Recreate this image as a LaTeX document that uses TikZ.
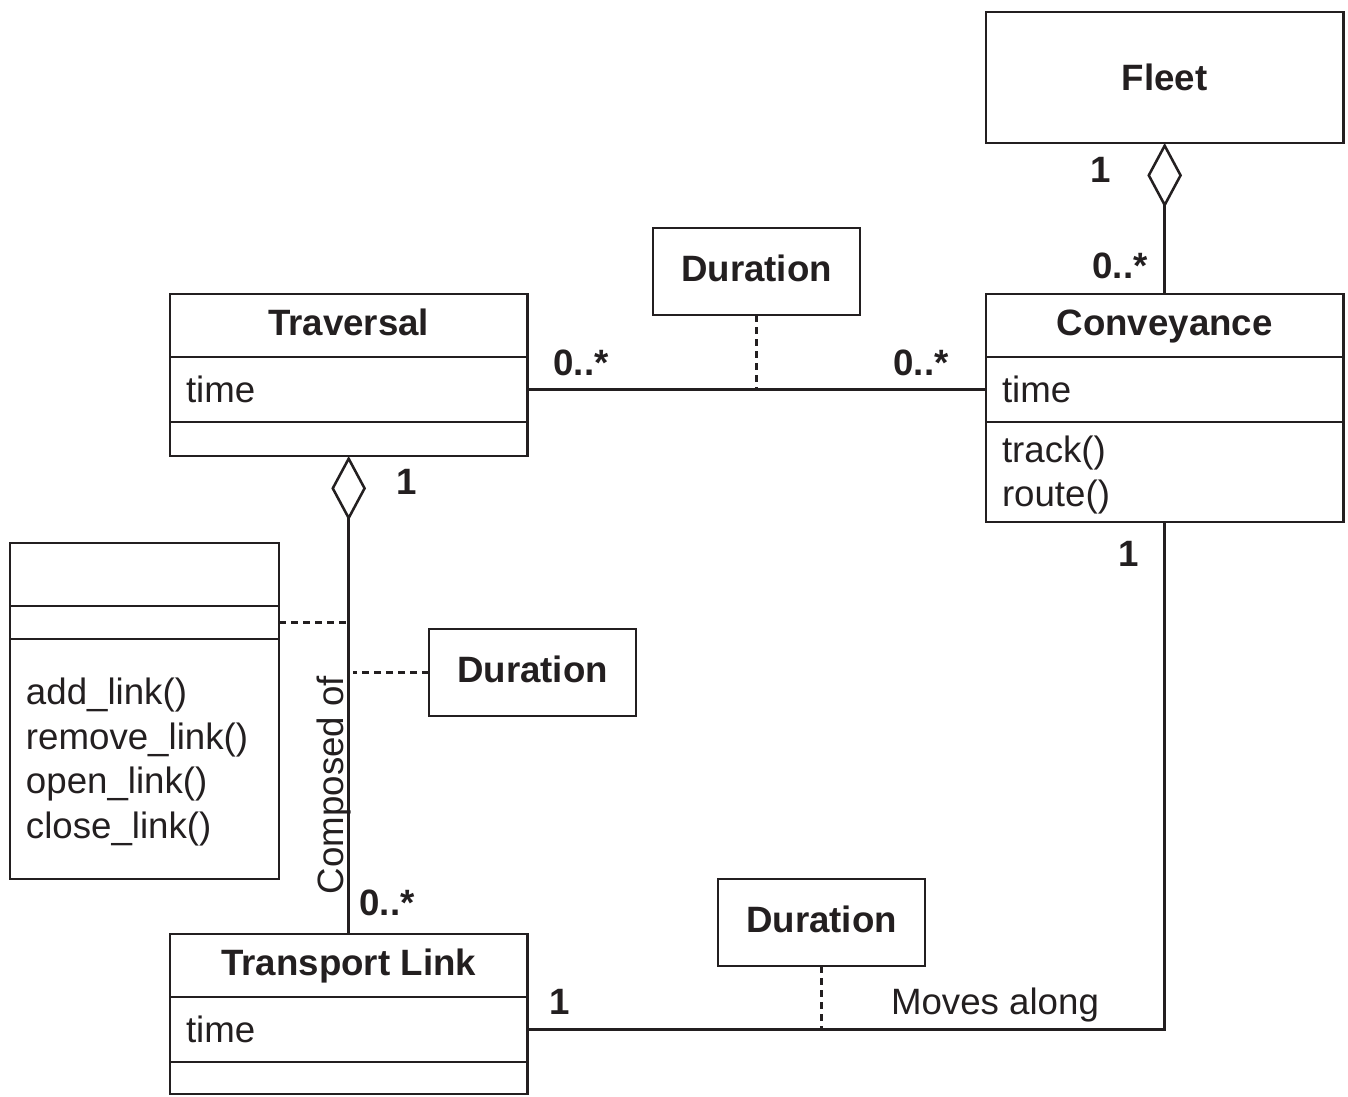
\documentclass[tikz,border=0pt]{standalone}
\usepackage{fontspec}
\setmainfont{Liberation Sans}
\usetikzlibrary{arrows.meta}
\definecolor{ink}{RGB}{35,31,32}

\begin{document}
\begin{tikzpicture}[x=0.75pt,y=-0.75pt,
  every node/.style={font=\fontsize{27.5}{33.5}\selectfont, text=ink},
  box/.style={draw=ink, line width=1.9pt, inner sep=0pt, outer sep=0pt, anchor=north west},
  titlecomp/.style={box, minimum width=#1, minimum height=47.25pt,
    font=\fontsize{27.5}{33.5}\selectfont\bfseries, text height=20.5pt, text depth=5.5pt},
  listcomp/.style 2 args={box, text width=#1, inner xsep=12pt, align=left, minimum height=#2},
  notebox/.style={box, minimum width=155.25pt, minimum height=65.25pt,
    font=\fontsize{27.5}{33.5}\selectfont\bfseries, text height=20.5pt, text depth=5.5pt},
  mult/.style={anchor=base, font=\fontsize{27.5}{33.5}\selectfont\bfseries},
  plain/.style={anchor=base},
  assoc/.style={draw=ink, line width=1.9pt},
  dashline/.style={draw=ink, line width=1.6pt, dash pattern=on 5.5pt off 3.5pt},
  agg/.style={-{Diamond[open, length=48.5pt, width=26pt]}},
]
\useasboundingbox (0,0) rectangle (1348,1096);

% Fleet
\node[box, minimum width=268pt, minimum height=98.25pt,
  font=\fontsize{27.5}{33.5}\selectfont\bfseries] (fleet) at (986,12) {Fleet};

% Traversal class
\node[titlecomp=268pt] (travtitle) at (170,294) {Traversal};
\node[listcomp={244pt}{48.75pt}] (travattr) at (travtitle.south west) {time};
\node[listcomp={244pt}{25.5pt}] (travops) at (travattr.south west) {};

% Conveyance class
\node[titlecomp=268pt] (convtitle) at (986,294) {Conveyance};
\node[listcomp={244pt}{48.75pt}] (convattr) at (convtitle.south west) {time};
\node[listcomp={244pt}{75pt}] (convops) at (convattr.south west)
  {\rule{0pt}{24.5pt}track()\\route()};

% Transport Link class
\node[titlecomp=268pt] (tltitle) at (170,934) {Transport Link};
\node[listcomp={244pt}{48.75pt}] (tlattr) at (tltitle.south west) {time};
\node[listcomp={244pt}{24pt}] (tlops) at (tlattr.south west) {};

% Association class of the composition
\node[titlecomp=201.75pt] (lbtitle) at (10,543) {};
\node[listcomp={177.75pt}{24.75pt}] (lbattr) at (lbtitle.south west) {};
\node[listcomp={177.75pt}{180pt}] (lbops) at (lbattr.south west)
  {\rule{0pt}{24.5pt}add\_link()\\remove\_link()\\open\_link()\\close\_link()};

% Duration notes
\node[notebox] (durA) at (653,228) {Duration};
\node[notebox] (durB) at (429,629) {Duration};
\node[notebox] (durC) at (718,879) {Duration};

% Connectors
\draw[assoc] (travattr.east) -- (convattr.west);
\draw[dashline] (durA.south) -- (durA.south |- travattr.east);
\draw[assoc, agg] (convtitle.north) -- (fleet.south);
\draw[assoc, agg] (tltitle.north) -- (travops.south);
\draw[dashline] (lbattr.east) -- (lbattr.east -| tltitle.north);
\draw[dashline] (durB.west) -- ([xshift=3pt]durB.west -| tltitle.north);
\draw[assoc] (tlattr.east) -| (convops.south);
\draw[dashline] (durC.south) -- (durC.south |- tlattr.east);

% Multiplicities and role labels
\node[mult] (mfleet) at (1101,182) {1};
\node[mult] (mconvtop) at (1120,278) {0..*};
\node[mult] (mtravright) at (581,375) {0..*};
\node[mult] (mconvleft) at (921,375) {0..*};
\node[mult] (mtravbottom) at (407,494) {1};
\node[mult] (mtltop) at (387,915) {0..*};
\node[mult] (mtlright) at (560,1014) {1};
\node[mult] (mconvbottom) at (1129,566) {1};
\node[plain] (moves) at (995,1014) {Moves along};
\node[plain, rotate=90] (composed) at (343,785) {Composed of};
\end{tikzpicture}
\end{document}
